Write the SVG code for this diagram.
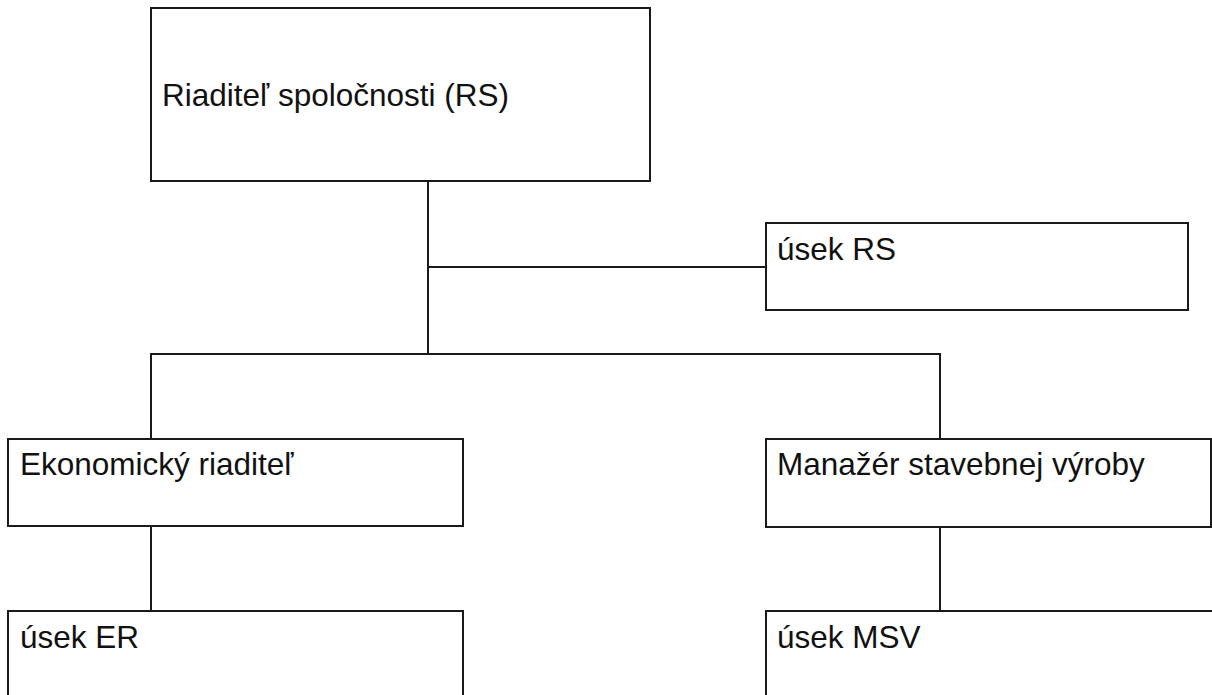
<svg xmlns="http://www.w3.org/2000/svg" width="1212" height="695" viewBox="0 0 1212 695">
<style>
.box{fill:#fff;stroke:#1a1a1a;stroke-width:2}
.ln{stroke:#1a1a1a;stroke-width:2;fill:none}
.t{font-family:"Liberation Sans",Arial,sans-serif;font-size:31.5px;fill:#111}
</style>
<rect width="1212" height="695" fill="#fff"/>
<g id="connectors">
<line class="ln" x1="428" y1="181" x2="428" y2="354"/>
<line class="ln" x1="428" y1="267" x2="766" y2="267"/>
<polyline class="ln" points="151,439 151,354 940,354 940,439"/>
<line class="ln" x1="151" y1="526" x2="151" y2="611"/>
<line class="ln" x1="940" y1="527" x2="940" y2="611"/>
</g>
<g id="rs">
<rect class="box" x="151" y="8" width="499" height="173"/>
<text class="t" x="162" y="106">Riaditeľ spoločnosti (RS)</text>
</g>
<g id="usek-rs">
<rect class="box" x="766" y="223" width="422" height="87"/>
<text class="t" x="777" y="260">úsek RS</text>
</g>
<g id="er">
<rect class="box" x="8" y="439" width="455" height="87"/>
<text class="t" x="20" y="475">Ekonomický riaditeľ</text>
</g>
<g id="msv">
<rect class="box" x="766" y="439" width="445" height="88"/>
<text class="t" x="777" y="475">Manažér stavebnej výroby</text>
</g>
<g id="usek-er">
<rect class="box" x="8" y="611" width="455" height="100"/>
<text class="t" x="20" y="648">úsek ER</text>
</g>
<g id="usek-msv">
<rect class="box" x="766" y="611" width="460" height="100"/>
<text class="t" x="777" y="648">úsek MSV</text>
</g>
</svg>
